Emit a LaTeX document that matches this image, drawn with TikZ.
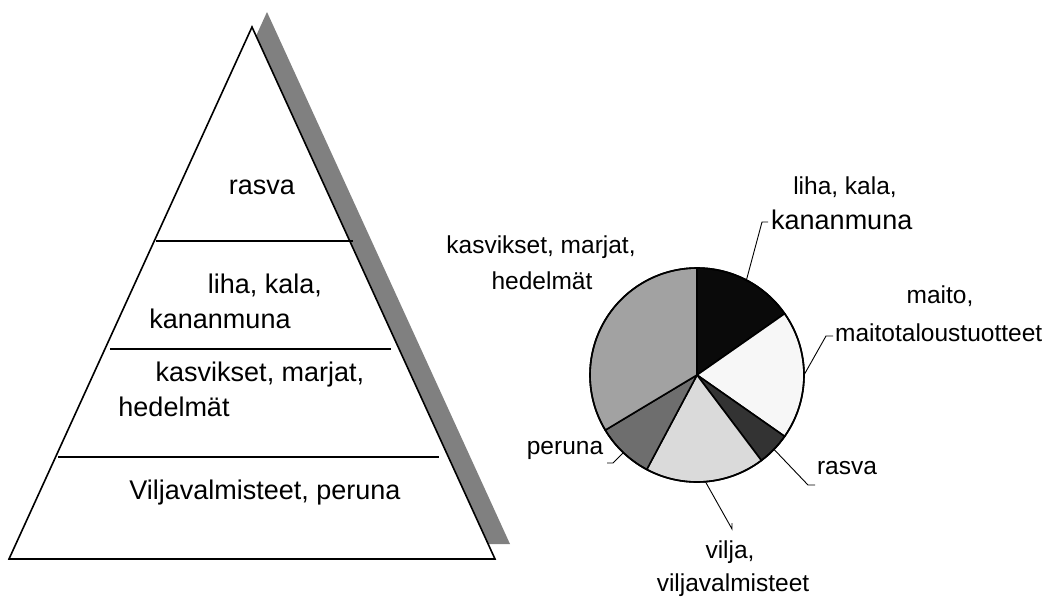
\documentclass[tikz,border=0pt]{standalone}
\usepackage{fontspec}
\setmainfont{Liberation Sans}

\definecolor{shadowgray}{HTML}{808080}
\definecolor{lihafill}{HTML}{0A0A0A}
\definecolor{maitofill}{HTML}{F7F7F7}
\definecolor{rasvafill}{HTML}{333333}
\definecolor{viljafill}{HTML}{DADADA}
\definecolor{perunafill}{HTML}{6E6E6E}
\definecolor{kasvisfill}{HTML}{A2A2A2}

\tikzset{
  pyrtext/.style={font=\fontsize{27}{32}\selectfont, inner sep=0pt, text height=20pt, text depth=7pt},
  pietext/.style={font=\fontsize{24.5}{29}\selectfont, inner sep=0pt, text height=18pt, text depth=6pt},
  leader/.style={line width=0.9pt},
  slice/.style={draw, line width=1.6pt, line join=round},
}

\begin{document}
\begin{tikzpicture}[x=1pt, y=-1pt]
    \useasboundingbox (0,0) rectangle (1052,598);

    % Shadow behind the pyramid
    \fill[shadowgray] (24,544) -- (267,12) -- (510,544) -- cycle;

    % Pyramid
    \draw[line width=1.6pt, fill=white] (9,559) -- (252,27) -- (495,559) -- cycle;
    \draw[line width=1.6pt] (156,241) -- (353,241);
    \draw[line width=1.6pt] (110,349) -- (391,349);
    \draw[line width=1.6pt] (58,457) -- (439,457);

    % Pyramid levels
    \node[pyrtext] (p-rasva) at (262,188) {rasva};
    \node[pyrtext] (p-liha) at (265,287) {liha, kala,};
    \node[pyrtext] (p-kananmuna) at (220,322) {kananmuna};
    \node[pyrtext] (p-kasvikset) at (260,375) {kasvikset, marjat,};
    \node[pyrtext] (p-hedelmat) at (174,410) {hedelmät};
    \node[pyrtext] (p-vilja) at (265,493) {Viljavalmisteet, peruna};

    % Pie chart
    \begin{scope}[shift={(697,375)}, y=1pt]
        \foreach \from/\to/\col/\name in {90/35/lihafill/liha, 35/-35/maitofill/maito,
            -35/-53/rasvafill/rasva, -53/-118/viljafill/vilja,
            -118/-149/perunafill/peruna, -149/-270/kasvisfill/kasvis}
        {
            \filldraw[slice, fill=\col] (0,0) -- (\from:107)
                arc[start angle=\from, end angle=\to, radius=107] -- cycle;
            \coordinate (\name-pt) at ({(\from+\to)/2}:107);
        }
        \draw[line width=1.6pt] (0,0) circle[radius=107];
    \end{scope}

    % Pie labels and leaders
    \coordinate (liha-end) at (768,222);
    \draw[leader] (liha-pt) -- ([xshift=-6pt]liha-end) -- (liha-end);
    \node[pietext] (liha-lbl) at (845,188) {liha, kala,};
    \node[pyrtext, anchor=west] (kananmuna-lbl) at (771,223) {kananmuna};

    \coordinate (maito-end) at (833,336);
    \draw[leader] (maito-pt) -- ([xshift=-7pt]maito-end) -- (maito-end);
    \node[pietext] (maito-lbl) at (940,297) {maito,};
    \node[pietext, anchor=west] (maitotal-lbl) at (835,335) {maitotaloustuotteet};

    \coordinate (rasva-end) at (815,485);
    \draw[leader] (rasva-pt) -- ([xshift=-7pt]rasva-end) -- (rasva-end);
    \node[pietext] (rasva-lbl) at (847,468) {rasva};

    \coordinate (vilja-end) at (732,523);
    \draw[leader] (vilja-pt) -- ([yshift=-6pt]vilja-end) -- (vilja-end);
    \node[pietext] (vilja-lbl) at (730,552) {vilja,};
    \node[pietext] (viljaval-lbl) at (733,585) {viljavalmisteet};

    \coordinate (peruna-end) at (607,463);
    \draw[leader] (peruna-pt) -- ([xshift=6pt]peruna-end) -- (peruna-end);
    \node[pietext] (peruna-lbl) at (565,448) {peruna};

    \node[pietext] (kasvis-lbl) at (541,247) {kasvikset, marjat,};
    \node[pietext] (hedelmat-lbl) at (542,283) {hedelmät};
\end{tikzpicture}
\end{document}
